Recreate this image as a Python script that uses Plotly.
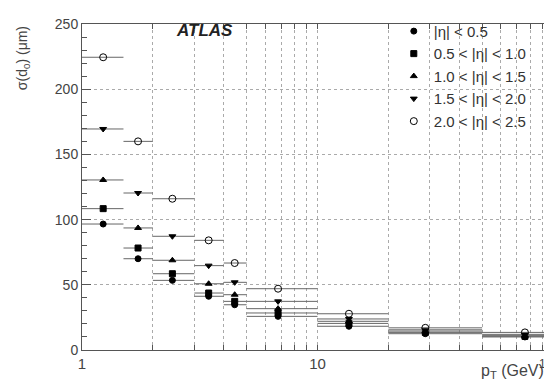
import plotly.graph_objects as go

# pT bins (GeV)
pt_lo = [1, 1.5, 2, 3, 4, 5, 10, 20, 50]
pt_hi = [1.5, 2, 3, 4, 5, 10, 20, 50, 100]
pt_mean = [1.23, 1.73, 2.42, 3.45, 4.45, 6.8, 13.6, 28.7, 76]

# sigma(d0) in micrometres per |eta| slice
labels = ["|η| < 0.5", "0.5 < |η| < 1.0", "1.0 < |η| < 1.5",
          "1.5 < |η| < 2.0", "2.0 < |η| < 2.5"]
sig_eta0 = [96.6, 70, 53.4, 41.2, 34.7, 25.8, 18.2, 12.5, 10]
sig_eta1 = [108.4, 78.2, 58.5, 43.7, 37.3, 28.4, 20.4, 13.5, 10.5]
sig_eta2 = [130.4, 93.6, 68.8, 50.8, 42.4, 31.7, 22.0, 14.5, 11]
sig_eta3 = [169.5, 120.4, 87.2, 64.7, 51.9, 37.3, 23.8, 15.5, 12]
sig_eta4 = [224.5, 160, 116, 84.1, 66.7, 47, 27.8, 17, 13.5]
series = [sig_eta0, sig_eta1, sig_eta2, sig_eta3, sig_eta4]
symbols = ["circle", "square", "triangle-up", "triangle-down", "circle-open"]
sizes = [6, 6, 6, 6, 7]

x_tickvals = [1, 2, 3, 4, 5, 6, 7, 8, 9, 10, 20, 30, 40, 50, 60, 70, 80, 90, 100]
x_ticktext = ["1"] + [""] * 8 + ["10"] + [""] * 8 + [""]

err_plus = [h - m for h, m in zip(pt_hi, pt_mean)]
err_minus = [m - l for l, m in zip(pt_lo, pt_mean)]

fig = go.Figure()
for lab, ys, sym, sz in zip(labels, series, symbols, sizes):
    fig.add_trace(go.Scatter(
        x=pt_mean, y=ys, mode="markers", name=lab,
        marker=dict(symbol=sym, size=sz, color="black",
                    line=dict(color="black", width=1)),
        error_x=dict(type="data", symmetric=False, array=err_plus,
                     arrayminus=err_minus, width=0, thickness=1,
                     color="#666666"),
    ))

axis_font = dict(family="Liberation Sans, Arial, sans-serif", size=14, color="#444444")

fig.update_layout(
    width=552, height=383,
    margin=dict(l=74, r=7, t=16, b=41),
    paper_bgcolor="white", plot_bgcolor="white",
    font=axis_font,
    showlegend=True,
    legend=dict(x=0.662, y=1.028, xanchor="left", yanchor="top",
                bgcolor="rgba(0,0,0,0)", font=dict(size=15, color="#333333"),
                itemwidth=30, tracegroupgap=0),
    xaxis=dict(type="log", range=[0, 2], tickvals=x_tickvals, ticktext=x_ticktext,
               ticks="inside", ticklen=5, tickcolor="#555555",
               showgrid=True, gridcolor="#aaaaaa", griddash="dot", gridwidth=1,
               showline=True, linecolor="#555555", linewidth=1, mirror="ticks",
               zeroline=False, tickfont=dict(family="Liberation Sans, Arial, sans-serif",
                                             size=15, color="#444444")),
    yaxis=dict(range=[0, 250], tickvals=[0, 50, 100, 150, 200, 250],
               ticks="inside", ticklen=9, tickcolor="#555555",
               minor=dict(dtick=10, ticks="inside", ticklen=5, tickcolor="#555555"),
               showgrid=True, gridcolor="#aaaaaa", griddash="dot", gridwidth=1,
               showline=True, linecolor="#555555", linewidth=1, mirror="ticks",
               zeroline=False, tickfont=axis_font),
)

fig.add_annotation(text="<b><i>ATLAS</i></b>", xref="paper", yref="paper",
                   x=0.195, y=0.98, xanchor="left", yanchor="middle",
                   showarrow=False, font=dict(size=17, color="#222222",
                                              family="Liberation Sans, Arial, sans-serif"))
fig.add_annotation(text="σ(d<sub>0</sub>) (μm)", xref="paper", yref="paper",
                   x=-0.125, y=1.0, xanchor="center", yanchor="top", textangle=-90,
                   showarrow=False, font=axis_font)
fig.add_annotation(text="p<sub>T</sub> (GeV)", xref="paper", yref="paper",
                   x=0.985, y=-0.102, xanchor="right", yanchor="bottom",
                   showarrow=False, font=dict(family="Liberation Sans, Arial, sans-serif",
                                              size=16, color="#444444"))
fig.add_annotation(text="10<sup>2</sup>", xref="paper", yref="paper",
                   x=1.013, y=-0.01, xanchor="right", yanchor="top",
                   showarrow=False, font=dict(family="Liberation Sans, Arial, sans-serif",
                                              size=12, color="#444444"))

fig.write_html("out.html")
